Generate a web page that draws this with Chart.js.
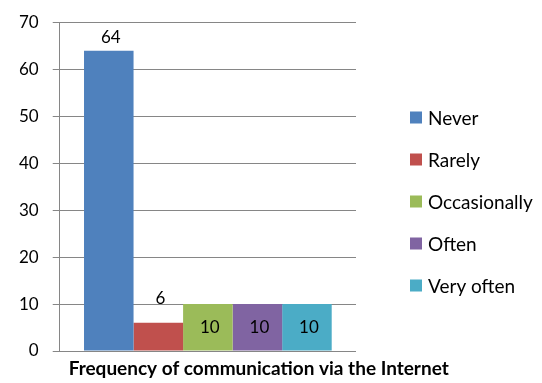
<!DOCTYPE html>
<html>
<head>
<meta charset="utf-8">
<script src="https://cdn.jsdelivr.net/npm/chart.js@4/dist/chart.umd.min.js"></script>
<style>
  html, body { margin: 0; padding: 0; background: #fff; }
  #wrap { width: 542px; height: 383px; }
</style>
</head>
<body>
<div id="wrap"><canvas id="chart"></canvas></div>
<script>
// Datos
const categories   = ['Frequency of communication via the Internet'];
const seriesNames  = ['Never', 'Rarely', 'Occasionally', 'Often', 'Very often'];
const seriesValues = [64, 6, 10, 10, 10];
const seriesColors = ['#4F81BD', '#C0504D', '#9BBB59', '#8064A2', '#4BACC6'];
const yMax  = 70;
const yStep = 10;

// Posición de las etiquetas de valor: 'end' = encima, 'center' = dentro
const labelAnchors = ['end', 'end', 'center', 'center', 'center'];
const labelOffsets = [13, 24, 0, 0, 0];

const FONT = 'Lato';

// Etiquetas de valor
const valueLabels = {
    id: 'valueLabels',
    afterDatasetsDraw: function (chart) {
        const ctx = chart.ctx;
        ctx.save();
        ctx.font = '17px ' + FONT;
        ctx.fillStyle = '#000';
        ctx.textAlign = 'center';
        ctx.textBaseline = 'middle';
        chart.data.datasets.forEach(function (ds, i) {
            const meta = chart.getDatasetMeta(i);
            meta.data.forEach(function (bar, j) {
                const v = ds.data[j];
                let y;
                if (labelAnchors[i] === 'end') {
                    y = bar.y - labelOffsets[i];
                } else {
                    y = (bar.y + bar.base) / 2;
                }
                ctx.fillText(String(v), bar.x + 2, y);
            });
        });
        ctx.restore();
    }
};

// Leyenda a la derecha y título del eje X (dibujados a mano)
const sideLegend = {
    id: 'sideLegend',
    afterDraw: function (chart) {
        const ctx = chart.ctx;
        const area = chart.chartArea;
        const items = chart.legend.legendItems || [];
        const spacing = 42;
        const box = 12;
        const x = area.right + 54;
        const midY = (20 + chart.height) / 2;
        const y0 = midY - spacing * (items.length - 1) / 2;
        ctx.save();
        ctx.font = '19px ' + FONT;
        ctx.textBaseline = 'middle';
        ctx.textAlign = 'left';
        items.forEach(function (it, i) {
            const y = y0 + i * spacing;
            ctx.fillStyle = it.fillStyle;
            ctx.fillRect(x, y - box / 2, box, box);
            ctx.fillStyle = '#000';
            ctx.fillText(it.text, x + box + 6, y + 1);
        });

        // título del eje
        ctx.font = 'bold 19px ' + FONT;
        ctx.textAlign = 'center';
        ctx.fillText(categories[0], area.left + 199, area.bottom + 18);
        ctx.restore();
    }
};

new Chart(document.getElementById('chart'), {
    type: 'bar',
    data: {
        labels: categories,
        datasets: seriesNames.map(function (name, i) {
            return {
                label: name,
                data: [seriesValues[i]],
                backgroundColor: seriesColors[i],
                borderWidth: 0,
                categoryPercentage: 0.836,
                barPercentage: 1
            };
        })
    },
    options: {
        responsive: true,
        maintainAspectRatio: false,
        animation: false,
        layout: { padding: { top: 10, left: 5, right: 186, bottom: 32 } },
        plugins: {
            tooltip: { enabled: false },
            legend: { display: false }
        },
        scales: {
            x: {
                grid: { display: false, drawTicks: false },
                border: { display: false },
                ticks: { display: false }
            },
            y: {
                min: 0,
                max: yMax,
                ticks: {
                    stepSize: yStep,
                    padding: 14,
                    color: '#000',
                    font: { family: FONT, size: 17, lineHeight: 1 }
                },
                grid: { color: '#868686', lineWidth: 1, tickLength: 7 },
                border: { display: true, color: '#868686', width: 1 }
            }
        }
    },
    plugins: [valueLabels, sideLegend]
});
</script>
</body>
</html>
